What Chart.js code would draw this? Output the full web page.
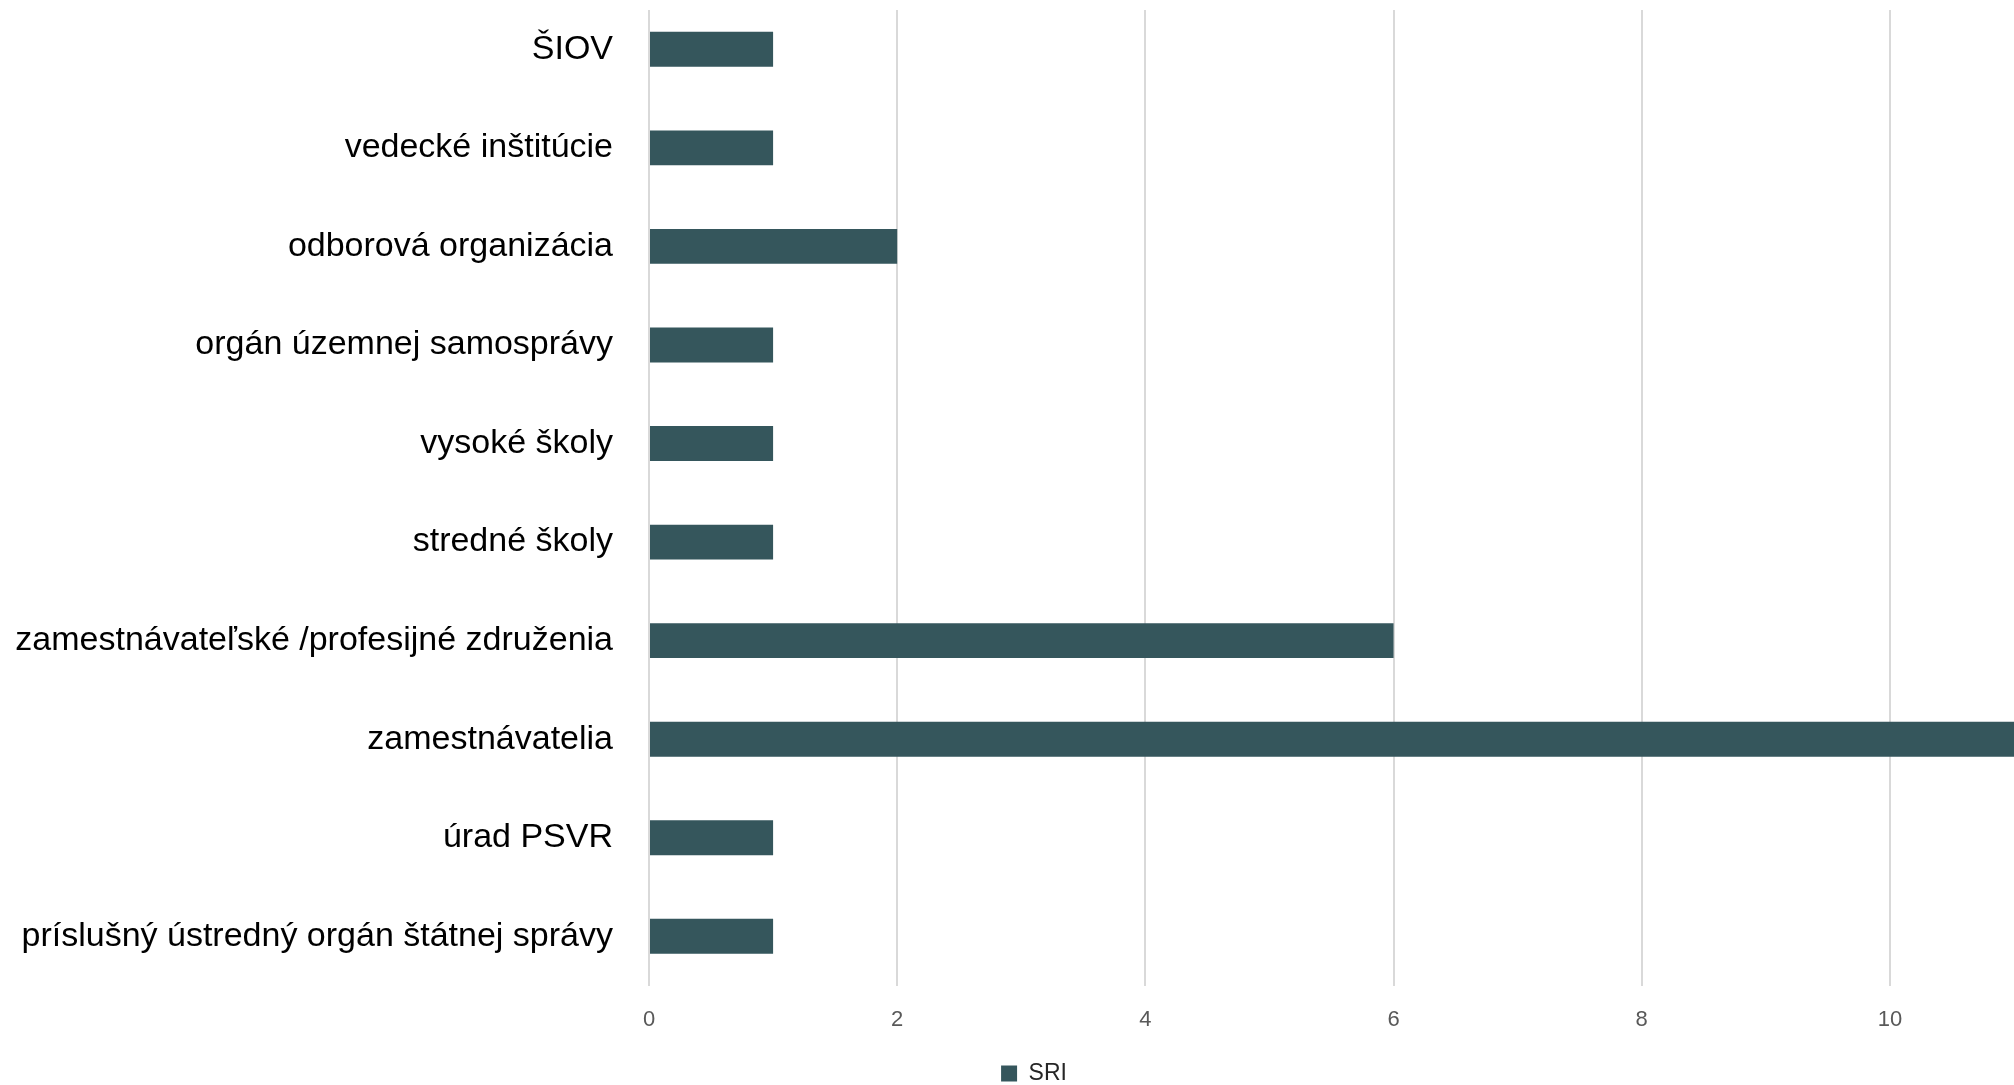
<!DOCTYPE html>
<html>
<head>
<meta charset="utf-8">
<script src="https://cdn.jsdelivr.net/npm/chart.js@4.4.1/dist/chart.umd.min.js"></script>
<style>
  html, body { margin: 0; padding: 0; background: #ffffff; overflow: hidden; }
  #wrap { width: 2014px; height: 1095px; }
  canvas { display: block; }
</style>
</head>
<body>
<div id="wrap"><canvas id="c" width="2014" height="1095"></canvas></div>
<script>
const categories = [
  'ŠIOV',
  'vedecké inštitúcie',
  'odborová organizácia',
  'orgán územnej samosprávy',
  'vysoké školy',
  'stredné školy',
  'zamestnávateľské /profesijné združenia',
  'zamestnávatelia',
  'úrad PSVR',
  'príslušný ústredný orgán štátnej správy'
];
const seriesName = 'SRI';
const sriValues = [1, 1, 2, 1, 1, 1, 6, 11, 1, 1];
const xMin = 0;
const xMax = 11;
const xStep = 2;

const FONT = "'Liberation Sans', Arial, sans-serif";

// shift the bottom legend slightly right, like the original (centred on a wider chart)
const legendShift = {
  id: 'legendShift',
  afterLayout(chart) {
    if (chart.legend) {
      chart.legend.left += 27;
      chart.legend.right += 27;
    }
  }
};

// gridlines in the original start a little below the top edge
const gridTopGap = {
  id: 'gridTopGap',
  beforeDatasetsDraw(chart) {
    const a = chart.chartArea;
    const ctx = chart.ctx;
    ctx.save();
    ctx.fillStyle = '#ffffff';
    ctx.fillRect(a.left - 2, a.top, a.right - a.left + 4, 10);
    ctx.restore();
  }
};

new Chart(document.getElementById('c'), {
  type: 'bar',
  data: {
    labels: categories,
    datasets: [{
      label: seriesName,
      data: sriValues,
      backgroundColor: '#35565c',
      borderWidth: 0,
      barPercentage: 0.354,
      categoryPercentage: 1.0
    }]
  },
  plugins: [legendShift, gridTopGap],
  options: {
    indexAxis: 'y',
    responsive: false,
    devicePixelRatio: 1,
    animation: false,
    layout: { padding: { left: 0, right: 0, top: 0, bottom: 0 } },
    plugins: {
      tooltip: { enabled: false },
      legend: {
        display: true,
        position: 'bottom',
        align: 'center',
        labels: {
          boxWidth: 16,
          boxHeight: 16,
          padding: 0,
          color: '#262626',
          font: { family: FONT, size: 23 }
        }
      }
    },
    scales: {
      x: {
        type: 'linear',
        min: xMin,
        max: xMax,
        afterBuildTicks: (axis) => {
          axis.ticks = axis.ticks.filter(t => t.value % xStep === 0);
        },
        afterFit: (axis) => { axis.height += 8; },
        ticks: {
          stepSize: xStep,
          padding: 21,
          color: '#595959',
          font: { family: FONT, size: 22 }
        },
        grid: {
          color: '#d9d9d9',
          lineWidth: 2,
          drawTicks: false
        },
        border: { display: false }
      },
      y: {
        type: 'category',
        afterFit: (axis) => {
          axis.width = 649;
          axis.paddingTop = 0;
          axis.paddingBottom = 0;
        },
        ticks: {
          padding: 36,
          color: '#000000',
          font: { family: FONT, size: 34 }
        },
        grid: { display: false, drawTicks: false },
        border: { display: false }
      }
    }
  }
});
</script>
</body>
</html>
